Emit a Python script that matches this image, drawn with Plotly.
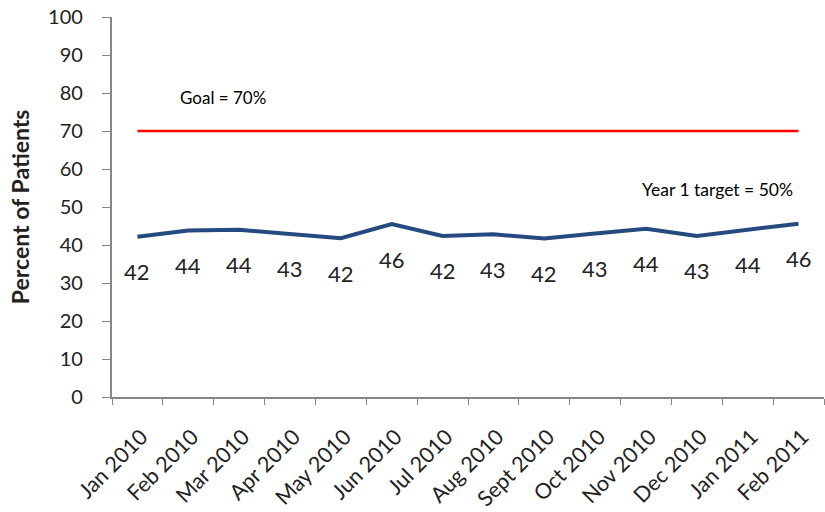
import plotly.graph_objects as go

months = ["Jan 2010", "Feb 2010", "Mar 2010", "Apr 2010", "May 2010", "Jun 2010",
          "Jul 2010", "Aug 2010", "Sept 2010", "Oct 2010", "Nov 2010", "Dec 2010",
          "Jan 2011", "Feb 2011"]
percent = [42.2, 43.8, 44.0, 43.0, 41.8, 45.5, 42.4, 42.8, 41.7, 43.0, 44.3, 42.4, 44.1, 45.6]
labels = ["42", "44", "44", "43", "42", "46", "42", "43", "42", "43", "44", "43", "44", "46"]
goal = [70] * len(months)

font = "Lato, 'Open Sans', sans-serif"

fig = go.Figure()
fig.add_trace(go.Scatter(x=months, y=goal, mode="lines",
                         line=dict(color="#FF0000", width=2.5), hoverinfo="skip"))
fig.add_trace(go.Scatter(x=months, y=percent, mode="lines",
                         line=dict(color="#254A7F", width=4)))

for m, v, t in zip(months, percent, labels):
    fig.add_annotation(x=m, y=v, text=t, showarrow=False, yshift=-35,
                       font=dict(family=font, size=22, color="#222222"))

fig.add_annotation(x=0.156, xref="paper", xanchor="center", y=78.7, text="Goal = 70%",
                   showarrow=False, font=dict(family=font, size=17, color="#000000"))
fig.add_annotation(x=0.85, xref="paper", xanchor="center", y=54.5, text="Year 1 target = 50%",
                   showarrow=False, font=dict(family=font, size=17.5, color="#000000"))
fig.add_annotation(x=-0.129, xref="paper", y=0.5, yref="paper", xanchor="center",
                   yanchor="middle", textangle=-90, text="<b>Percent of Patients</b>",
                   showarrow=False, font=dict(family=font, size=23, color="#222222"))

fig.update_layout(
    width=825, height=512,
    margin=dict(l=112, r=1, t=17, b=115),
    plot_bgcolor="white", paper_bgcolor="white",
    showlegend=False,
    font=dict(family=font, color="#222222"),
)
fig.update_xaxes(type="category", range=[-0.5, len(months) - 0.5], tickson="boundaries",
                 ticks="outside", ticklen=6, tickwidth=1.2,
                 tickcolor="#868686", showline=True, linecolor="#868686", linewidth=1.5,
                 showgrid=False, tickangle=-45, tickfont=dict(size=21.5, family=font),
                 automargin=False, ticklabeloverflow="allow",
                 ticklabelstandoff=17, ticklabelshift=4)
fig.update_yaxes(range=[0, 100], dtick=10, ticks="outside", ticklen=8, tickwidth=1.2,
                 tickcolor="#868686", ticksuffix="\u00a0\u00a0\u00a0",
                 showline=True, linecolor="#868686", linewidth=1.5, showgrid=False,
                 zeroline=False, tickfont=dict(size=20, family=font), automargin=False,
                 ticklabeloverflow="allow")

fig.write_html("out.html", config={"displayModeBar": False},
               post_script="document.body.style.margin='0';")
